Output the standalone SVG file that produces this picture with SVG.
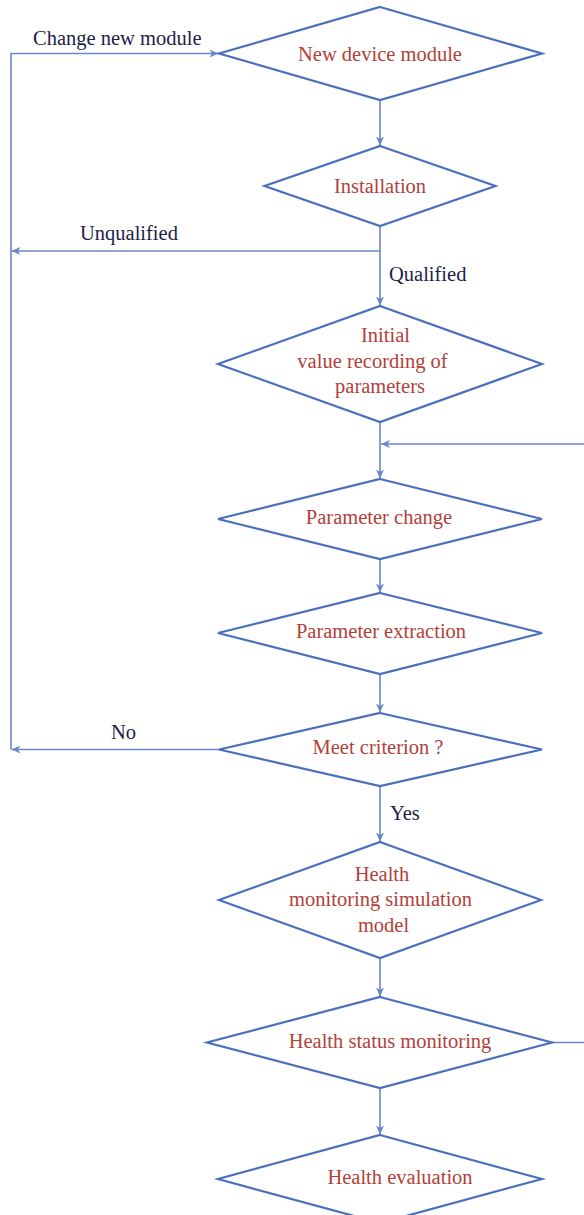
<svg xmlns="http://www.w3.org/2000/svg" width="584" height="1215" viewBox="0 0 584 1215">
  <style>
    .node { fill: #ffffff; stroke: #4a70bd; stroke-width: 2.2; stroke-linejoin: miter; }
    .link { fill: none; stroke: #6a86c9; stroke-width: 1.6; }
    .ntext { font-family: "Liberation Serif", "Times New Roman", serif; font-size: 20.5px; fill: #b23f3a; text-anchor: middle; }
    .ltext { font-family: "Liberation Serif", "Times New Roman", serif; font-size: 20.5px; fill: #1e1e46; }
  </style>
  <defs>
    <marker id="arrow" viewBox="0 0 10 10" refX="10" refY="5" markerWidth="9" markerHeight="9" markerUnits="userSpaceOnUse" orient="auto">
      <path d="M0,0.5 L10,5 L0,9.5 L2.8,5 Z" fill="#6a86c9"/>
    </marker>
  </defs>

  <rect width="584" height="1215" fill="#ffffff"/>

  <!-- connectors -->
  <g id="connectors">
    <line class="link" x1="380" y1="100" x2="380" y2="145.5" marker-end="url(#arrow)"/>
    <line class="link" x1="380" y1="226" x2="380" y2="305.5" marker-end="url(#arrow)"/>
    <line class="link" x1="380" y1="251" x2="11.5" y2="251" marker-end="url(#arrow)"/>
    <line class="link" x1="380" y1="422" x2="380" y2="478.5" marker-end="url(#arrow)"/>
    <path class="link" d="M552,1042.5 H610 V444 H381" marker-end="url(#arrow)"/>
    <line class="link" x1="380" y1="559" x2="380" y2="592.5" marker-end="url(#arrow)"/>
    <line class="link" x1="380" y1="674" x2="380" y2="712.5" marker-end="url(#arrow)"/>
    <line class="link" x1="219" y1="749.5" x2="11.5" y2="749.5" marker-end="url(#arrow)"/>
    <path class="link" d="M11,749.5 V53.5 H218.5" marker-end="url(#arrow)"/>
    <line class="link" x1="380" y1="786" x2="380" y2="841.5" marker-end="url(#arrow)"/>
    <line class="link" x1="380" y1="958" x2="380" y2="996.5" marker-end="url(#arrow)"/>
    <line class="link" x1="380" y1="1088" x2="380" y2="1134.5" marker-end="url(#arrow)"/>
  </g>

  <!-- connector labels -->
  <g id="labels">
    <text class="ltext" x="33" y="45">Change new module</text>
    <text class="ltext" x="80" y="240">Unqualified</text>
    <text class="ltext" x="389" y="281">Qualified</text>
    <text class="ltext" x="111" y="739">No</text>
    <text class="ltext" x="390" y="820">Yes</text>
  </g>

  <!-- nodes -->
  <g id="new-device-module">
    <polygon class="node" points="380,7 542,53.5 380,100 219,53.5"/>
    <text class="ntext" x="380" y="60.5">New device module</text>
  </g>

  <g id="installation">
    <polygon class="node" points="380,146 495.5,186 380,226 264.5,186"/>
    <text class="ntext" x="380" y="192.5">Installation</text>
  </g>

  <g id="initial-value-recording">
    <polygon class="node" points="380,306 542,364 380,422 218,364"/>
    <text class="ntext" x="385.5" y="342">Initial</text>
    <text class="ntext" x="372.5" y="368">value recording of</text>
    <text class="ntext" x="380" y="393">parameters</text>
  </g>

  <g id="parameter-change">
    <polygon class="node" points="380,479 542,519 380,559 218,519"/>
    <text class="ntext" x="379" y="524">Parameter change</text>
  </g>

  <g id="parameter-extraction">
    <polygon class="node" points="380,593 542,633 380,674 218,633"/>
    <text class="ntext" x="381" y="638">Parameter extraction</text>
  </g>

  <g id="meet-criterion">
    <polygon class="node" points="380,713 542,749.5 380,786 219,749.5"/>
    <text class="ntext" x="378" y="754">Meet criterion ?</text>
  </g>

  <g id="simulation-model">
    <polygon class="node" points="380,842 541,900 380,958 219,900"/>
    <text class="ntext" x="382" y="881">Health</text>
    <text class="ntext" x="380.5" y="906">monitoring simulation</text>
    <text class="ntext" x="383.5" y="931.5">model</text>
  </g>

  <g id="health-status-monitoring">
    <polygon class="node" points="380,997 552,1042.5 380,1088 207,1042.5"/>
    <text class="ntext" x="390" y="1048">Health status monitoring</text>
  </g>

  <g id="health-evaluation">
    <polygon class="node" points="380,1135 542,1179 380,1223 218,1179"/>
    <text class="ntext" x="400" y="1184">Health evaluation</text>
  </g>
</svg>
